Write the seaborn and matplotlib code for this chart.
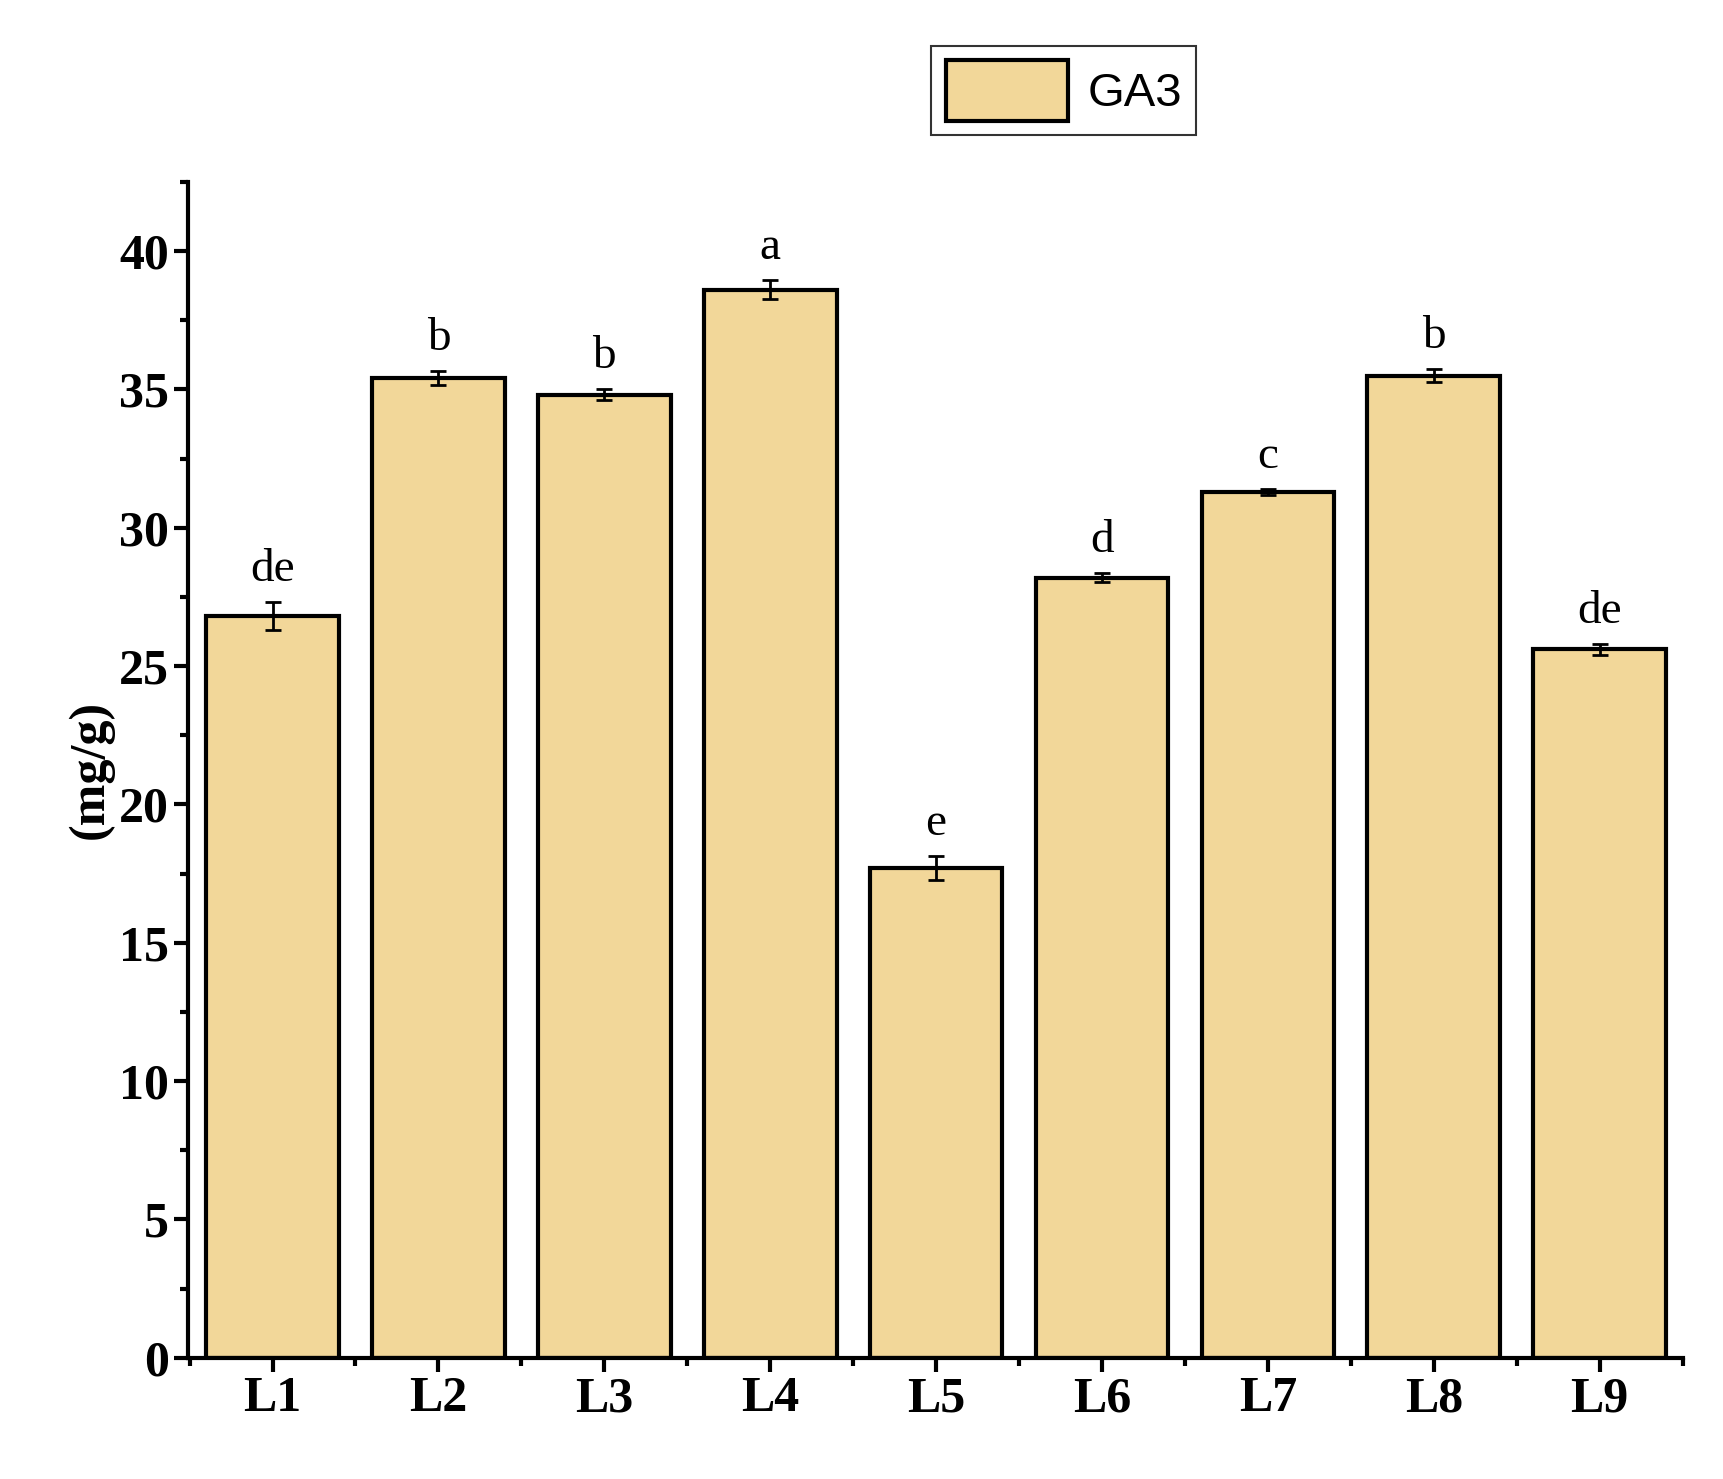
import numpy as np
import pandas as pd
import seaborn as sns
import matplotlib.pyplot as plt
from matplotlib.patches import Patch
from matplotlib.ticker import MultipleLocator

groups = ['L1', 'L2', 'L3', 'L4', 'L5', 'L6', 'L7', 'L8', 'L9']
values = [26.8, 35.4, 34.8, 38.6, 17.7, 28.2, 31.3, 35.5, 25.6]
errors = [0.5, 0.25, 0.2, 0.35, 0.45, 0.15, 0.1, 0.25, 0.2]
letters = ['de', 'b', 'b', 'a', 'e', 'd', 'c', 'b', 'de']

sns.set_style('ticks')
plt.rcParams['font.family'] = ['Liberation Serif', 'DejaVu Serif']
for k in ['text.color', 'axes.labelcolor', 'xtick.color', 'ytick.color', 'axes.edgecolor']:
    plt.rcParams[k] = 'black'
color = '#F2D799'

df = pd.DataFrame({'group': groups, 'value': values})
fig = plt.figure(figsize=(17.24, 14.79), dpi=100)
ax = fig.add_axes([0.109, 0.082, 0.867, 0.795])
sns.barplot(data=df, x='group', y='value', color=color, edgecolor='black',
            linewidth=3, width=0.8, saturation=1, ax=ax)
ax.errorbar(np.arange(len(groups)), values, yerr=errors, fmt='none',
            ecolor='black', elinewidth=2, capsize=6, capthick=2)
for i, (v, e, t) in enumerate(zip(values, errors, letters)):
    ax.text(i, v + e + 0.4, t, ha='center', va='bottom', fontsize=34)

ax.set_xlim(-0.51, 8.5)
ax.set_ylim(0, 42.5)
ax.yaxis.set_major_locator(MultipleLocator(5))
ax.yaxis.set_minor_locator(MultipleLocator(2.5))
ax.set_xticks(np.arange(-0.5, 8.6, 1.0), minor=True)
ax.tick_params(axis='both', which='major', length=10, width=3, labelsize=36)
ax.tick_params(axis='both', which='minor', length=6, width=3)
for lab in ax.get_xticklabels() + ax.get_yticklabels():
    lab.set_fontweight('bold')
ax.set_xlabel('')
ax.set_ylabel('(mg/g)', fontsize=36, fontweight='bold')
sns.despine(ax=ax)
for s in ['left', 'bottom']:
    ax.spines[s].set_linewidth(3)

leg = fig.legend(handles=[Patch(facecolor=color, edgecolor='black', linewidth=3, label='GA3')],
                 loc='center', bbox_to_anchor=(0.617, 0.939),
                 prop={'family': 'Liberation Sans', 'size': 34},
                 fancybox=False, edgecolor='black', handlelength=2.6, handleheight=1.6,
                 handletextpad=0.4, borderpad=0.3)
leg.get_frame().set_linewidth(1.5)

fig.savefig('out.png', dpi=100)
